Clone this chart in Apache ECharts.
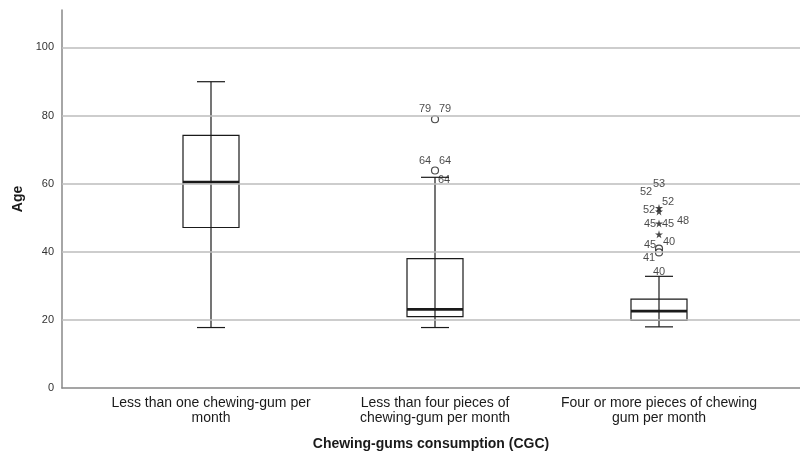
<!DOCTYPE html>
<html>
<head>
<meta charset="utf-8">
<script src="https://cdn.jsdelivr.net/npm/echarts@6/dist/echarts.min.js"></script>
<style>
  html, body { margin: 0; padding: 0; background: #fff; }
  #chart { width: 800px; height: 456px; }
</style>
</head>
<body>
<div id="chart"></div>
<script>
// categories on the x axis
const categories = [
  'Less than one chewing-gum per\nmonth',
  'Less than four pieces of\nchewing-gum per month',
  'Four or more pieces of chewing\ngum per month'
]
// [category, low whisker, Q1, median, Q3, high whisker]
const boxes = [
  [0, 18, 47.3, 60.6, 74.3, 90],
  [1, 18, 21.2, 23.3, 38.2, 62],
  [2, 18.2, 20.1, 22.8, 26.3, 33]
]
// outliers: [category, age]
const circleOutliers = [[1, 79], [1, 64], [2, 41.1], [2, 40]]
const starOutliers = [[2, 53], [2, 52], [2, 48.5], [2, 45.3]]
// case labels: [category, age of the mark it belongs to, text]
const caseLabels = [
  [1, 79, '79'], [1, 79, '79'],
  [1, 64, '64'], [1, 64, '64'],
  [1, 62, '64'],
  [2, 53, '53'], [2, 53, '52'],
  [2, 52, '52'], [2, 52, '52'],
  [2, 48.5, '45'], [2, 48.5, '45'], [2, 48.5, '48'],
  [2, 41.1, '45'], [2, 41.1, '40'],
  [2, 40, '41'],
  [2, 33, '40']
]
const gridValues = [20, 40, 60, 80, 100]

// pixel offsets of the case labels (style only)
const labelOffsets = [
  [-10, -10], [10, -10],
  [-10, -10], [10, -10],
  [9, 3],
  [0, -24], [-13, -16],
  [9, -9], [-10, -1],
  [-9, 1], [9, 1], [24, -2],
  [-9, -4], [10, -7],
  [-10, 6],
  [0, -4]
]

const font = 'Liberation Sans, Arial, sans-serif'
const ink = '#1a1a1a'
const starPath = 'path://M50,0 L61,35 L98,35 L68,57 L79,91 L50,70 L21,91 L32,57 L2,35 L39,35 Z'

const chart = echarts.init(document.getElementById('chart'), null, { renderer: 'canvas' })

chart.setOption({
  animation: false,
  backgroundColor: '#fff',
  grid: [
    { left: 62, right: 0, top: 10, bottom: 67 },
    { left: 99, right: 29, top: 10, bottom: 67 }
  ],
  xAxis: [
    {
      gridIndex: 0,
      type: 'category',
      data: [''],
      name: 'Chewing-gums consumption (CGC)',
      nameLocation: 'middle',
      nameGap: 49,
      nameTextStyle: { fontFamily: font, fontSize: 14, fontWeight: 'bold', color: ink },
      axisLine: { lineStyle: { color: '#888', width: 1.5 } },
      axisTick: { show: false },
      axisLabel: { show: false },
      splitLine: { show: false }
    },
    {
      gridIndex: 1,
      type: 'category',
      data: categories,
      axisLine: { show: false },
      axisTick: { show: false },
      axisLabel: {
        margin: 7,
        fontFamily: font,
        fontSize: 14,
        lineHeight: 15,
        color: ink,
        align: 'center',
        interval: 0
      },
      splitLine: { show: false }
    }
  ],
  yAxis: [
    {
      gridIndex: 0,
      type: 'value',
      min: 0,
      max: 111,
      interval: 20,
      name: 'Age',
      nameLocation: 'middle',
      nameGap: 37,
      nameTextStyle: { fontFamily: font, fontSize: 14, fontWeight: 'bold', color: ink },
      axisLine: { show: true, lineStyle: { color: '#888', width: 1.5 } },
      axisTick: { show: false },
      axisLabel: {
        margin: 8,
        fontFamily: font,
        fontSize: 11,
        color: '#333',
        formatter: function (v) { return v % 20 === 0 ? String(v) : '' }
      },
      splitLine: { show: false }
    },
    {
      gridIndex: 1,
      type: 'value',
      min: 0,
      max: 111,
      show: false
    }
  ],
  series: [
    {
      // horizontal reference lines
      type: 'line',
      xAxisIndex: 0,
      yAxisIndex: 0,
      data: [],
      silent: true,
      z: 1,
      markLine: {
        silent: true,
        symbol: 'none',
        label: { show: false },
        lineStyle: { color: '#bdbdbd', width: 1.5, type: 'solid' },
        data: gridValues.map(function (v) { return { yAxis: v } })
      }
    },
    {
      type: 'custom',
      xAxisIndex: 1,
      yAxisIndex: 1,
      z: 3,
      data: boxes,
      renderItem: function (params, api) {
        const x = api.value(0)
        const band = api.size([1, 0])[0]
        const half = band * 0.125
        const cap = half / 2
        const lo = api.coord([x, api.value(1)])
        const q1 = api.coord([x, api.value(2)])
        const med = api.coord([x, api.value(3)])
        const q3 = api.coord([x, api.value(4)])
        const hi = api.coord([x, api.value(5)])
        const cx = lo[0]
        const line = { stroke: ink, lineWidth: 1.2, fill: null }
        return {
          type: 'group',
          children: [
            { type: 'line', shape: { x1: cx, y1: hi[1], x2: cx, y2: q3[1] }, style: line },
            { type: 'line', shape: { x1: cx, y1: q1[1], x2: cx, y2: lo[1] }, style: line },
            { type: 'line', shape: { x1: cx - cap, y1: hi[1], x2: cx + cap, y2: hi[1] }, style: line },
            { type: 'line', shape: { x1: cx - cap, y1: lo[1], x2: cx + cap, y2: lo[1] }, style: line },
            { type: 'rect', shape: { x: cx - half, y: q3[1], width: half * 2, height: q1[1] - q3[1] }, style: { stroke: ink, lineWidth: 1.2, fill: '#fff' } },
            { type: 'line', shape: { x1: cx, y1: q3[1], x2: cx, y2: q1[1] }, style: line },
            { type: 'line', shape: { x1: cx - half, y1: med[1], x2: cx + half, y2: med[1] }, style: { stroke: ink, lineWidth: 2.8 } }
          ]
        }
      }
    },
    {
      type: 'scatter',
      xAxisIndex: 1,
      yAxisIndex: 1,
      z: 4,
      symbol: 'circle',
      symbolSize: 7,
      itemStyle: { color: '#fff', borderColor: ink, borderWidth: 1.2 },
      data: circleOutliers
    },
    {
      type: 'scatter',
      xAxisIndex: 1,
      yAxisIndex: 1,
      z: 4,
      symbol: starPath,
      symbolSize: 8,
      itemStyle: { color: ink },
      data: starOutliers
    },
    {
      type: 'scatter',
      xAxisIndex: 1,
      yAxisIndex: 1,
      z: 5,
      symbolSize: 0,
      silent: true,
      data: caseLabels.map(function (d, i) {
        return {
          value: [d[0], d[1]],
          label: {
            show: true,
            position: 'inside',
            offset: labelOffsets[i],
            formatter: d[2],
            fontFamily: font,
            fontSize: 11,
            color: ink
          }
        }
      })
    }
  ]
})
</script>
</body>
</html>
